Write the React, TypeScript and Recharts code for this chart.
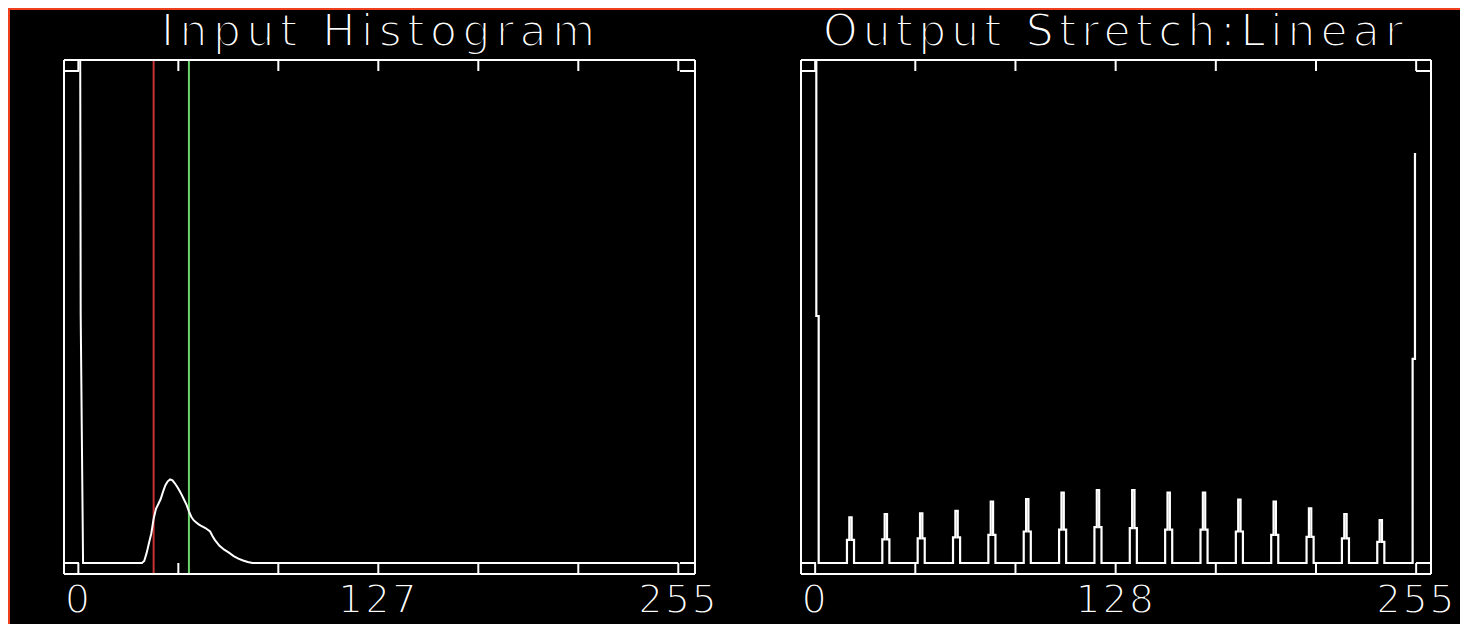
import React from "react";
import { LineChart, Line, XAxis, YAxis, ReferenceLine } from "recharts";

// ---- tick values / labels ----
const TICK_VALUES = [0, 42.5, 85, 127.5, 170, 212.5, 255];
const LEFT_TICK_LABELS = ["0", "", "", "127", "", "", "255"];
const RIGHT_TICK_LABELS = ["0", "", "", "128", "", "", "255"];
const Y_TICKS = [0, 1];

const LEFT_TITLE = "Input Histogram";
const RIGHT_TITLE = "Output Stretch:Linear";

// ---- input histogram (bin -> normalized count) ----
const INPUT_BINS = [0, 1, 2, 27, 28, 29, 30, 31, 32, 33, 34, 35, 36, 37, 38, 39, 40, 41, 42, 43, 44, 45, 46, 47, 48, 49, 50, 51, 52, 54, 56, 57, 58, 60, 62, 64, 66, 68, 70, 72, 74, 255];
const INPUT_COUNTS = [3.0, 0.502, 0, 0, 0.004, 0.02, 0.04, 0.06, 0.09, 0.11, 0.12, 0.13, 0.145, 0.158, 0.166, 0.17, 0.168, 0.162, 0.155, 0.147, 0.138, 0.128, 0.118, 0.105, 0.094, 0.087, 0.083, 0.079, 0.076, 0.071, 0.064, 0.055, 0.047, 0.035, 0.027, 0.021, 0.014, 0.009, 0.005, 0.002, 0, 0];

// stretch limits (red = min, green = max)
const STRETCH_MIN = 32;
const STRETCH_MAX = 47;

// ---- output histogram ----
const OUTPUT_EDGE_BINS = [0, 1, 2];
const OUTPUT_EDGE_COUNTS = [3.0, 0.502, 0];
const SPIKE_BINS = [15, 30, 45, 60, 75, 90, 105, 120, 135, 150, 165, 180, 195, 210, 225, 240];
const SPIKE_TIPS = [0.093, 0.0996, 0.101, 0.106, 0.125, 0.13, 0.143, 0.148, 0.148, 0.143, 0.143, 0.129, 0.125, 0.111, 0.0996, 0.087];
const SPIKE_SHOULDERS = [0.047, 0.048, 0.05, 0.052, 0.057, 0.064, 0.068, 0.073, 0.071, 0.068, 0.068, 0.064, 0.057, 0.053, 0.05, 0.043];
const OUTPUT_END_BINS = [253, 254, 255];
const OUTPUT_END_COUNTS = [0, 0.415, 0.831];

// ---- tables built from the arrays ----
const inputData = INPUT_BINS.map((b, i) => ({ x: b, y: INPUT_COUNTS[i] }));

const outputData: { x: number; y: number }[] = [];
OUTPUT_EDGE_BINS.forEach((b, i) => outputData.push({ x: b, y: OUTPUT_EDGE_COUNTS[i] }));
SPIKE_BINS.forEach((k, i) => {
  outputData.push({ x: k - 2, y: 0 });
  outputData.push({ x: k - 1, y: SPIKE_SHOULDERS[i] });
  outputData.push({ x: k, y: SPIKE_TIPS[i] });
  outputData.push({ x: k + 1, y: SPIKE_SHOULDERS[i] });
  outputData.push({ x: k + 2, y: 0 });
});
OUTPUT_END_BINS.forEach((b, i) => outputData.push({ x: b, y: OUTPUT_END_COUNTS[i] }));

const Y_DOMAIN: [number, number] = [-0.02236, 1.02236];
const FONT = "DejaVu Sans";
const WHITE = "#ffffff";

const bottomTick = (labels: string[]) => (props: any) => {
  const { x, y, payload } = props;
  const i = TICK_VALUES.indexOf(payload.value);
  const label = i >= 0 ? labels[i] : "";
  return (
    <g>
      <line x1={x} x2={x} y1={y} y2={y - 11} stroke={WHITE} strokeWidth={2} />
      {label ? (
        <text
          x={x}
          y={y + 39}
          textAnchor="middle"
          fill={WHITE}
          stroke="#000"
          strokeWidth={1.8}
          fontFamily={FONT}
          fontSize={39}
          letterSpacing={2}
        >
          {label}
        </text>
      ) : null}
    </g>
  );
};

const topTick = (props: any) => {
  const { x, y } = props;
  return <line x1={x} x2={x} y1={y} y2={y + 11} stroke={WHITE} strokeWidth={2} />;
};
const leftTick = (props: any) => {
  const { x, y } = props;
  return <line x1={x} x2={x + 15} y1={y} y2={y} stroke={WHITE} strokeWidth={2} />;
};
const rightTick = (props: any) => {
  const { x, y } = props;
  return <line x1={x} x2={x - 15} y1={y} y2={y} stroke={WHITE} strokeWidth={2} />;
};

const axisLine = { stroke: WHITE, strokeWidth: 2 };

function Panel(props: {
  data: { x: number; y: number }[];
  width: number;
  margin: { top: number; right: number; bottom: number; left: number };
  xDomain: [number, number];
  labels: string[];
  curve: "linear" | "step";
  lineWidth: number;
  markers?: boolean;
}) {
  const { data, width, margin, xDomain, labels, curve, lineWidth, markers } = props;
  return (
    <LineChart width={width} height={614} data={data} margin={margin} style={{ overflow: "visible" }}>
      <XAxis
        xAxisId="b"
        dataKey="x"
        type="number"
        domain={xDomain}
        allowDataOverflow
        ticks={TICK_VALUES}
        interval={0}
        height={40}
        tickSize={0}
        tickMargin={0}
        tickLine={false}
        axisLine={axisLine}
        tick={bottomTick(labels)}
      />
      <XAxis
        xAxisId="t"
        dataKey="x"
        orientation="top"
        mirror
        type="number"
        domain={xDomain}
        allowDataOverflow
        ticks={TICK_VALUES}
        interval={0}
        height={20}
        tickSize={0}
        tickMargin={0}
        tickLine={false}
        axisLine={axisLine}
        tick={topTick}
      />
      <YAxis
        yAxisId="l"
        mirror
        type="number"
        domain={Y_DOMAIN}
        allowDataOverflow
        ticks={Y_TICKS}
        interval={0}
        width={20}
        tickSize={0}
        tickMargin={0}
        tickLine={false}
        axisLine={axisLine}
        tick={leftTick}
      />
      <YAxis
        yAxisId="r"
        orientation="right"
        mirror
        type="number"
        domain={Y_DOMAIN}
        allowDataOverflow
        ticks={Y_TICKS}
        interval={0}
        width={20}
        tickSize={0}
        tickMargin={0}
        tickLine={false}
        axisLine={axisLine}
        tick={rightTick}
      />
      {markers ? (
        <ReferenceLine xAxisId="b" yAxisId="l" x={STRETCH_MIN} stroke="#c83232" strokeWidth={2} />
      ) : null}
      {markers ? (
        <ReferenceLine xAxisId="b" yAxisId="l" x={STRETCH_MAX} stroke="#6cd46c" strokeWidth={2} />
      ) : null}
      <Line
        xAxisId="b"
        yAxisId="l"
        type={curve}
        dataKey="y"
        stroke={WHITE}
        strokeWidth={lineWidth}
        dot={false}
        activeDot={false}
        isAnimationActive={false}
      />
    </LineChart>
  );
}

export default function App() {
  return (
    <div
      style={{
        position: "relative",
        width: 1460,
        height: 616,
        boxSizing: "border-box",
        borderTop: "2px solid #f04020",
        borderLeft: "2px solid #f04020",
        background: "#000",
      }}
    >
      <div style={{ position: "absolute", left: -10, top: -10, width: 1468, height: 624 }}>
        <svg width={1468} height={62} style={{ position: "absolute", left: 0, top: 0 }}>
          <text
            x={378}
            y={46}
            textAnchor="middle"
            textLength={434}
            lengthAdjust="spacing"
            fill={WHITE}
            stroke="#000"
            strokeWidth={2}
            fontFamily={FONT}
            fontSize={44}
          >
            {LEFT_TITLE}
          </text>
          <text
            x={1113}
            y={46}
            textAnchor="middle"
            textLength={580}
            lengthAdjust="spacing"
            fill={WHITE}
            stroke="#000"
            strokeWidth={2}
            fontFamily={FONT}
            fontSize={44}
          >
            {RIGHT_TITLE}
          </text>
        </svg>
        <div style={{ position: "absolute", left: 10, top: 10 }}>
          <Panel
            data={inputData}
            width={730}
            margin={{ top: 50, right: 45, bottom: 10, left: 54 }}
            xDomain={[-6.1, 262.1]}
            labels={LEFT_TICK_LABELS}
            curve="linear"
            lineWidth={2}
            markers
          />
        </div>
        <div style={{ position: "absolute", left: 740, top: 10 }}>
          <Panel
            data={outputData}
            width={728}
            margin={{ top: 50, right: 37, bottom: 10, left: 61 }}
            xDomain={[-6.0, 261.3]}
            labels={RIGHT_TICK_LABELS}
            curve="step"
            lineWidth={2.2}
          />
        </div>
      </div>
    </div>
  );
}
